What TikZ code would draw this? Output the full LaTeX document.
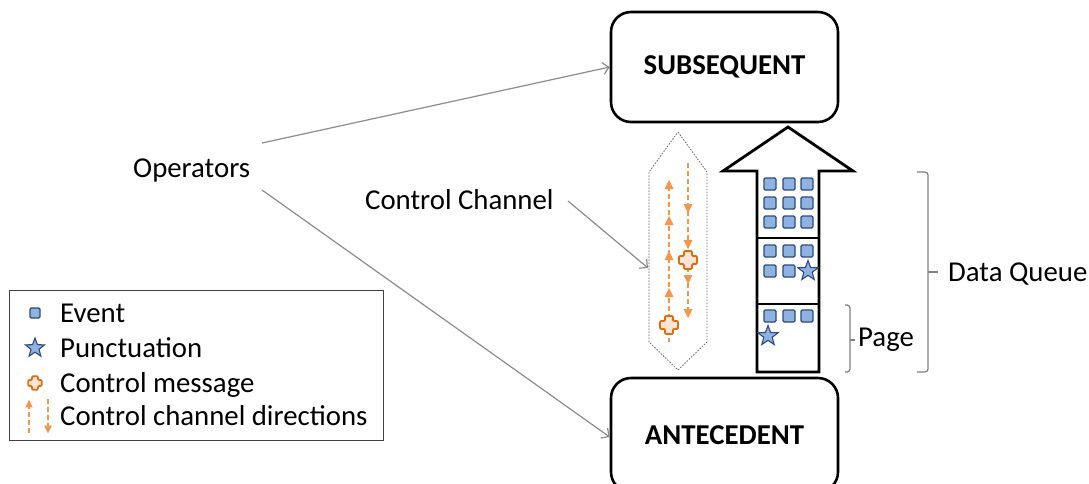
\documentclass[tikz,border=0pt]{standalone}
\usepackage{fontspec}
\setmainfont{Carlito}
\usetikzlibrary{arrows.meta,shapes.geometric}
\definecolor{evfill}{HTML}{8DB3E2}
\definecolor{evdraw}{HTML}{2E4A7D}
\definecolor{chan}{HTML}{F79646}
\definecolor{cmdraw}{HTML}{E36C09}
\definecolor{cmfill}{HTML}{FCE4D6}
\definecolor{garr}{HTML}{8C8C8C}
\definecolor{brk}{HTML}{808080}
\tikzset{
  lbl/.style={anchor=base west,inner sep=0pt,font=\fontsize{28.8}{32}\selectfont},
  boxlbl/.style={draw=black,line width=2.6pt,rounded corners=20pt,minimum width=227pt,font=\fontsize{28.8}{32}\selectfont\bfseries},
  evt/.style={draw=evdraw,fill=evfill,line width=1.2pt,rounded corners=1.2pt,minimum size=12pt,inner sep=0pt},
  punc/.style={star,star points=5,star point ratio=2.4,draw=evdraw,fill=evfill,line width=1.1pt,minimum size=21pt,inner sep=0pt},
  garrow/.style={draw=garr,line width=1.2pt,-{Straight Barb[length=6pt,width=12pt]}},
  chline/.style={draw=chan,line width=1.3pt,dash pattern=on 5pt off 3pt},
  brack/.style={draw=brk,line width=1.2pt,rounded corners=3pt},
  uptri/.pic={\fill[chan] (0,-5) -- (4.5,4) -- (-4.5,4) -- cycle;},
  dntri/.pic={\fill[chan] (0,5) -- (4.5,-4) -- (-4.5,-4) -- cycle;},
  cmsg/.pic={\draw[draw=cmdraw,fill=cmfill,line width=1.6pt,rounded corners=1pt]
     (-4,-9) -- (4,-9) -- (4,-4) -- (9,-4) -- (9,4) -- (4,4) -- (4,9) -- (-4,9) -- (-4,4) -- (-9,4) -- (-9,-4) -- (-4,-4) -- cycle;}
}
\begin{document}
\begin{tikzpicture}[x=1pt,y=-1pt]
\useasboundingbox (0,0) rectangle (1089,483);
\clip (0,0) rectangle (1089,483);
\fill[white] (0,0) rectangle (1089,483);

% main boxes
\node[boxlbl,minimum height=110pt] (sub) at (724.5,67) {SUBSEQUENT};
\node[boxlbl,minimum height=114pt] (ant) at (724.5,435) {ANTECEDENT};

% labels
\node[lbl] (ops) at (133,177) {Operators};
\node[lbl] (cc) at (365,209) {Control Channel};
\node[lbl] (dq) at (948,281) {Data Queue};
\node[lbl] (pg) at (858,346) {Page};

% connectors
\coordinate (op1) at (262,143);
\coordinate (op2) at (262,190);
\coordinate (ccs) at (568,201);
\coordinate (hexl) at (648,268);
\draw[garrow] (op1) -- (sub.west);
\draw[garrow] (op2) -- ([yshift=-2pt]ant.west);
\draw[garrow] (ccs) -- (hexl);

% control channel hexagon
\draw[black!60,line width=0.8pt,dash pattern=on 1.6pt off 1.4pt]
  (678,132) -- (707,172) -- (707,342) -- (678,370) -- (649,342) -- (649,172) -- cycle;
\draw[chline] (669,186) -- (669,342);
\draw[chline] (688,163) -- (688,316);
\foreach \y in {185,221,256,293} \pic at (669,\y) {uptri};
\foreach \y in {208,244,279,313} \pic at (688,\y) {dntri};
\pic at (688,260) {cmsg};
\pic at (669,325) {cmsg};

% data queue
\draw[black,line width=2.8pt,line join=miter]
  (757,372) -- (757,171) -- (723,171) -- (788,127) -- (853,171) -- (819,171) -- (819,372) -- cycle;
\draw[black,line width=2.8pt] (757,238) -- (819,238);
\draw[black,line width=2.8pt] (757,304) -- (819,304);
\foreach \y in {184,203,222} \foreach \x in {770,789,807} \node[evt] at (\x,\y) {};
\foreach \x in {770,789,807} \node[evt] at (\x,251) {};
\foreach \x in {770,789} \node[evt] at (\x,271) {};
\node[punc] at (808,271) {};
\foreach \x in {770,789,807} \node[evt] at (\x,316) {};
\node[punc] at (768,336) {};

% brackets
\draw[brack] (917,172) -- (928,172) -- (928,372) -- (917,372);
\draw[brk,line width=1.2pt] (928,272) -- (938,272);
\draw[brack] (845,305) -- (850,305) -- (850,372) -- (845,372);
\draw[brk,line width=1.2pt] (850,340) -- (855,340);

% legend
\draw[draw=black!75,line width=0.9pt] (9,290) rectangle (383,440);
\node[evt,minimum size=10pt] (lev) at (35,313) {};
\node[lbl] (tev) at (60,322) {Event};
\node[punc,minimum size=20pt] (lpu) at (35,348) {};
\node[lbl] (tpu) at (60,357) {Punctuation};
\pic[scale=0.75] at (35,383) {cmsg};
\node[lbl] (tcm) at (60,392) {Control message};
\draw[chline,line width=1.1pt] (29,404) -- (29,433);
\pic[scale=0.85] at (29,404) {uptri};
\draw[chline,line width=1.1pt] (48,399) -- (48,428);
\pic[scale=0.85] at (48,429) {dntri};
\node[lbl] (tcd) at (60,425) {Control channel directions};
\end{tikzpicture}
\end{document}
